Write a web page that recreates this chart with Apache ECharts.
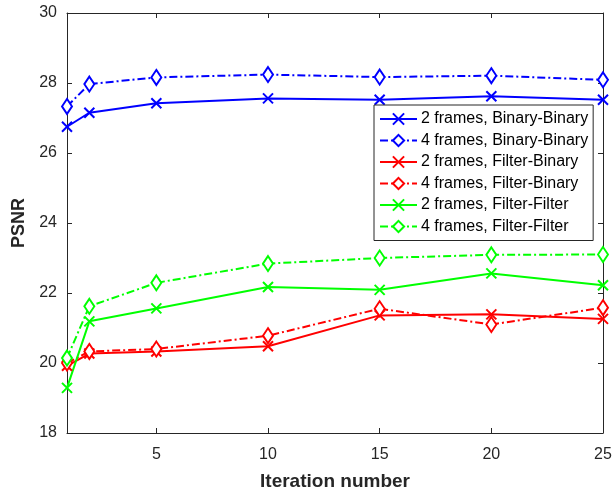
<!DOCTYPE html>
<html>
<head>
<meta charset="utf-8">
<script src="https://cdn.jsdelivr.net/npm/echarts@6/dist/echarts.min.js"></script>
<style>
  html, body { margin: 0; padding: 0; background: #fff; }
  #chart { width: 616px; height: 489px; }
</style>
</head>
<body>
<div id="chart"></div>
<script>
// values
const iterations = [1, 2, 5, 10, 15, 20, 25];
const binBin2 = [26.75, 27.15, 27.42, 27.56, 27.52, 27.62, 27.52];
const binBin4 = [27.33, 27.97, 28.16, 28.24, 28.17, 28.21, 28.09];
const filtBin2 = [19.92, 20.27, 20.33, 20.48, 21.36, 21.39, 21.26];
const filtBin4 = [20.0, 20.33, 20.4, 20.78, 21.55, 21.1, 21.58];
const filtFilt2 = [19.29, 21.19, 21.56, 22.17, 22.09, 22.56, 22.22];
const filtFilt4 = [20.14, 21.62, 22.29, 22.84, 23.0, 23.09, 23.1];
const xTicks = [5, 10, 15, 20, 25];
const yTicks = [18, 20, 22, 24, 26, 28, 30];

const AXIS_COLOR = '#262626';
const FONT = 'Liberation Sans, Arial, Helvetica, sans-serif';
const CROSS = 'path://M0,0L10,10M10,0L0,10';
const DASH_DOT = [8, 3, 2, 3];

function makeSeries(name, values, color, fourFrames) {
  return {
    name: name,
    type: 'line',
    data: iterations.map((x, i) => [x, values[i]]),
    clip: false,
    color: color,
    symbol: fourFrames ? 'emptyDiamond' : CROSS,
    symbolSize: fourFrames ? [10, 15] : 10,
    lineStyle: { width: 2, color: color, type: fourFrames ? DASH_DOT : 'solid' },
    itemStyle: { color: color, borderColor: color, borderWidth: 2 },
    emphasis: { disabled: true }
  };
}

const chart = echarts.init(document.getElementById('chart'));

const tickStyle = { show: true, inside: true, length: 5, lineStyle: { color: AXIS_COLOR, width: 1 } };

chart.setOption({
  animation: false,
  textStyle: { fontFamily: FONT },
  grid: { left: 67, right: 13, top: 13, bottom: 56, outerBoundsMode: 'none' },
  legend: {
    orient: 'vertical',
    left: 374,
    top: 105,
    padding: [6, 5, 6, 5],
    itemWidth: 37,
    itemHeight: 14,
    itemGap: 5.5,
    borderColor: AXIS_COLOR,
    borderWidth: 1,
    borderRadius: 0,
    backgroundColor: '#fff',
    textStyle: { fontSize: 16, color: '#000', fontFamily: FONT, padding: [0, 0, 0, -1] }
  },
  xAxis: [
    {
      type: 'value', min: 1, max: 25,
      name: 'Iteration number', nameLocation: 'middle', nameGap: 39,
      nameTextStyle: { fontSize: 19, fontWeight: 'bold', color: AXIS_COLOR },
      axisLine: { show: true, lineStyle: { color: AXIS_COLOR, width: 1 } },
      axisTick: Object.assign({ customValues: xTicks }, tickStyle),
      axisLabel: { customValues: xTicks, fontSize: 16, color: AXIS_COLOR, margin: 14 },
      splitLine: { show: false }
    },
    {
      type: 'value', min: 1, max: 25, position: 'top',
      axisLine: { show: true, onZero: false, lineStyle: { color: AXIS_COLOR, width: 1 } },
      axisTick: Object.assign({ customValues: xTicks }, tickStyle),
      axisLabel: { show: false },
      splitLine: { show: false }
    }
  ],
  yAxis: [
    {
      type: 'value', min: 18, max: 30, interval: 2,
      name: 'PSNR', nameLocation: 'middle', nameGap: 36,
      nameTextStyle: { fontSize: 18, fontWeight: 'bold', color: AXIS_COLOR },
      axisLine: { show: true, lineStyle: { color: AXIS_COLOR, width: 1 } },
      axisTick: Object.assign({ customValues: yTicks }, tickStyle),
      axisLabel: { customValues: yTicks, fontSize: 16, color: AXIS_COLOR, margin: 10 },
      splitLine: { show: false }
    },
    {
      type: 'value', min: 18, max: 30, interval: 2, position: 'right',
      axisLine: { show: true, onZero: false, lineStyle: { color: AXIS_COLOR, width: 1 } },
      axisTick: tickStyle,
      axisLabel: { show: false },
      splitLine: { show: false }
    }
  ],
  series: [
    makeSeries('2 frames, Binary-Binary', binBin2, '#0000ff', false),
    makeSeries('4 frames, Binary-Binary', binBin4, '#0000ff', true),
    makeSeries('2 frames, Filter-Binary', filtBin2, '#ff0000', false),
    makeSeries('4 frames, Filter-Binary', filtBin4, '#ff0000', true),
    makeSeries('2 frames, Filter-Filter', filtFilt2, '#00ff00', false),
    makeSeries('4 frames, Filter-Filter', filtFilt4, '#00ff00', true)
  ]
});
</script>
</body>
</html>
